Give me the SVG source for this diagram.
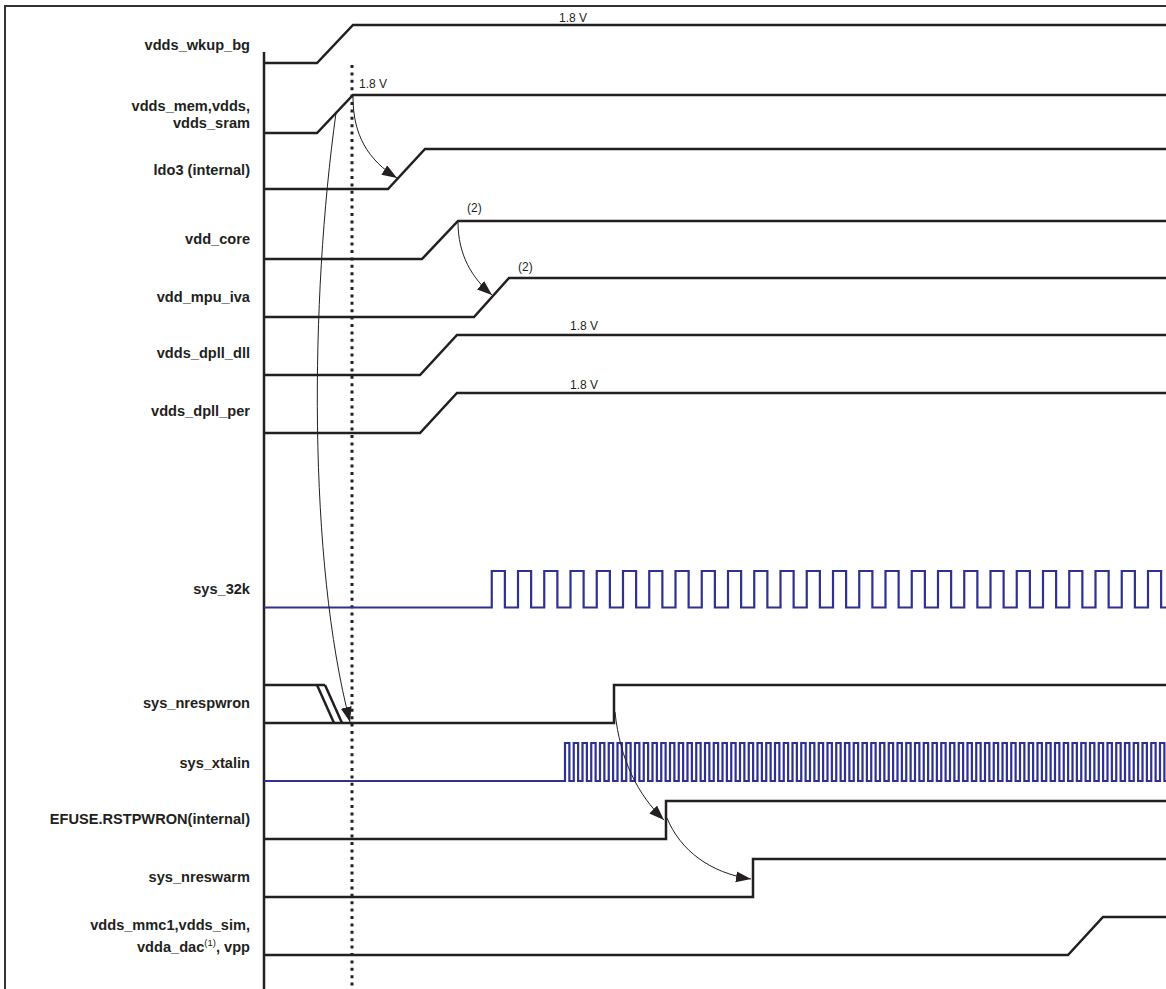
<svg xmlns="http://www.w3.org/2000/svg" width="1166" height="989" viewBox="0 0 1166 989">
<style>
.lbl{font-family:"Liberation Sans",Arial,sans-serif;font-weight:bold;font-size:14.6px;fill:#231f20;text-anchor:end}
.val{font-family:"Liberation Sans",Arial,sans-serif;font-size:12px;fill:#231f20}
.sig{fill:none;stroke:#231f20;stroke-width:2.5;stroke-linejoin:miter}
.clk{fill:none;stroke:#2e3192;stroke-width:2.2}
.arr{fill:none;stroke:#231f20;stroke-width:1}
.frame{fill:none;stroke:#333;stroke-width:2}
</style>
<defs>
<marker id="ah" markerUnits="userSpaceOnUse" markerWidth="16" markerHeight="12" refX="15" refY="5.5" orient="auto">
<path d="M0,0 L15,5.5 L0,11 z" fill="#231f20"/>
</marker>
</defs>
<rect width="1166" height="989" fill="#fff"/>
<g id="frame">
<path class="frame" d="M5,989 V6 H1166"/>
<line x1="264" y1="52" x2="264" y2="989" stroke="#231f20" stroke-width="2.5"/>
<line x1="352" y1="65" x2="352" y2="989" stroke="#231f20" stroke-width="3" stroke-dasharray="3 4.4"/>
</g>
<g id="vdds_wkup_bg">
<text class="lbl" x="250" y="50">vdds_wkup_bg</text>
<path class="sig" d="M264,63 H317 L353,25 H1166"/>
<text class="val" x="559" y="22">1.8 V</text>
</g>
<g id="vdds_mem">
<text class="lbl" x="250" y="111">vdds_mem,vdds,</text>
<text class="lbl" x="250" y="128">vdds_sram</text>
<path class="sig" d="M264,133 H317 L353,95 H1166"/>
<text class="val" x="359" y="88">1.8 V</text>
</g>
<g id="ldo3">
<text class="lbl" x="250" y="175">ldo3 (internal)</text>
<path class="sig" d="M264,189 H388 L425,149 H1166"/>
</g>
<g id="vdd_core">
<text class="lbl" x="250" y="244">vdd_core</text>
<path class="sig" d="M264,259 H422 L458,221 H1166"/>
<text class="val" x="467" y="212">(2)</text>
</g>
<g id="vdd_mpu_iva">
<text class="lbl" x="250" y="302">vdd_mpu_iva</text>
<path class="sig" d="M264,317 H474 L509,278 H1166"/>
<text class="val" x="518" y="271">(2)</text>
</g>
<g id="vdds_dpll_dll">
<text class="lbl" x="250" y="358">vdds_dpll_dll</text>
<path class="sig" d="M264,375 H420 L457,335 H1166"/>
<text class="val" x="570" y="330">1.8 V</text>
</g>
<g id="vdds_dpll_per">
<text class="lbl" x="250" y="416">vdds_dpll_per</text>
<path class="sig" d="M264,433 H420 L457,393 H1166"/>
<text class="val" x="570" y="389">1.8 V</text>
</g>
<g id="sys_32k">
<text class="lbl" x="250" y="594">sys_32k</text>
<path class="clk" d="M264,607.5 H491.75 v-36.5 h13.125 v36.5 h13.125 v-36.5 h13.125 v36.5 h13.125 v-36.5 h13.125 v36.5 h13.125 v-36.5 h13.125 v36.5 h13.125 v-36.5 h13.125 v36.5 h13.125 v-36.5 h13.125 v36.5 h13.125 v-36.5 h13.125 v36.5 h13.125 v-36.5 h13.125 v36.5 h13.125 v-36.5 h13.125 v36.5 h13.125 v-36.5 h13.125 v36.5 h13.125 v-36.5 h13.125 v36.5 h13.125 v-36.5 h13.125 v36.5 h13.125 v-36.5 h13.125 v36.5 h13.125 v-36.5 h13.125 v36.5 h13.125 v-36.5 h13.125 v36.5 h13.125 v-36.5 h13.125 v36.5 h13.125 v-36.5 h13.125 v36.5 h13.125 v-36.5 h13.125 v36.5 h13.125 v-36.5 h13.125 v36.5 h13.125 v-36.5 h13.125 v36.5 h13.125 v-36.5 h13.125 v36.5 h13.125 v-36.5 h13.125 v36.5 h13.125 v-36.5 h13.125 v36.5 h13.125 v-36.5 h13.125 v36.5 h13.125 v-36.5 h13.125 v36.5 h13.125 v-36.5 h13.125 v36.5 h13.125 v-36.5 h13.125 v36.5 h13.125 v-36.5 h13.125 v36.5 h13.125 v-36.5 h13.125 v36.5 h13.125 v-36.5 h13.125 v36.5 h13.125"/>
</g>
<g id="sys_nrespwron">
<text class="lbl" x="250" y="708">sys_nrespwron</text>
<path class="sig" d="M264,685 H325"/>
<path class="sig" d="M317,685 L334,723"/>
<path class="sig" d="M325,685 L342,723"/>
<path class="sig" d="M264,723 H614 V685 H1166"/>
</g>
<g id="sys_xtalin">
<text class="lbl" x="250" y="768">sys_xtalin</text>
<path class="clk" d="M264,781 H565 v-38 h4.375 v38 h4.375 v-38 h4.375 v38 h4.375 v-38 h4.375 v38 h4.375 v-38 h4.375 v38 h4.375 v-38 h4.375 v38 h4.375 v-38 h4.375 v38 h4.375 v-38 h4.375 v38 h4.375 v-38 h4.375 v38 h4.375 v-38 h4.375 v38 h4.375 v-38 h4.375 v38 h4.375 v-38 h4.375 v38 h4.375 v-38 h4.375 v38 h4.375 v-38 h4.375 v38 h4.375 v-38 h4.375 v38 h4.375 v-38 h4.375 v38 h4.375 v-38 h4.375 v38 h4.375 v-38 h4.375 v38 h4.375 v-38 h4.375 v38 h4.375 v-38 h4.375 v38 h4.375 v-38 h4.375 v38 h4.375 v-38 h4.375 v38 h4.375 v-38 h4.375 v38 h4.375 v-38 h4.375 v38 h4.375 v-38 h4.375 v38 h4.375 v-38 h4.375 v38 h4.375 v-38 h4.375 v38 h4.375 v-38 h4.375 v38 h4.375 v-38 h4.375 v38 h4.375 v-38 h4.375 v38 h4.375 v-38 h4.375 v38 h4.375 v-38 h4.375 v38 h4.375 v-38 h4.375 v38 h4.375 v-38 h4.375 v38 h4.375 v-38 h4.375 v38 h4.375 v-38 h4.375 v38 h4.375 v-38 h4.375 v38 h4.375 v-38 h4.375 v38 h4.375 v-38 h4.375 v38 h4.375 v-38 h4.375 v38 h4.375 v-38 h4.375 v38 h4.375 v-38 h4.375 v38 h4.375 v-38 h4.375 v38 h4.375 v-38 h4.375 v38 h4.375 v-38 h4.375 v38 h4.375 v-38 h4.375 v38 h4.375 v-38 h4.375 v38 h4.375 v-38 h4.375 v38 h4.375 v-38 h4.375 v38 h4.375 v-38 h4.375 v38 h4.375 v-38 h4.375 v38 h4.375 v-38 h4.375 v38 h4.375 v-38 h4.375 v38 h4.375 v-38 h4.375 v38 h4.375 v-38 h4.375 v38 h4.375 v-38 h4.375 v38 h4.375 v-38 h4.375 v38 h4.375 v-38 h4.375 v38 h4.375 v-38 h4.375 v38 h4.375 v-38 h4.375 v38 h4.375 v-38 h4.375 v38 h4.375 v-38 h4.375 v38 h4.375 v-38 h4.375 v38 h4.375 v-38 h4.375 v38 h4.375 v-38 h4.375 v38 h4.375 v-38 h4.375 v38 h4.375 v-38 h4.375 v38 h4.375 v-38 h4.375 v38 h4.375 v-38 h4.375 v38 h4.375 v-38 h4.375 v38 h4.375"/>
</g>
<g id="efuse_rstpwron">
<text class="lbl" x="250" y="824">EFUSE.RSTPWRON(internal)</text>
<path class="sig" d="M264,839 H666 V801 H1166"/>
</g>
<g id="sys_nreswarm">
<text class="lbl" x="250" y="882">sys_nreswarm</text>
<path class="sig" d="M264,897 H753 V859 H1166"/>
</g>
<g id="vdds_mmc1">
<text class="lbl" x="250" y="930">vdds_mmc1,vdds_sim,</text>
<text class="lbl" x="250" y="952">vdda_dac<tspan font-size="9.5px" font-weight="normal" dy="-6">(1)</tspan><tspan dy="6">, vpp</tspan></text>
<path class="sig" d="M264,955 H1068 L1103,917 H1166"/>
</g>
<g id="connectors">
<path class="arr" marker-end="url(#ah)" d="M353,97 C353,135 368,160 397,178"/>
<path class="arr" marker-end="url(#ah)" d="M458,222 C458,255 472,278 492,295"/>
<path class="arr" marker-end="url(#ah)" d="M336,113 C310,300 308,560 350,722"/>
<path class="arr" marker-end="url(#ah)" d="M615,712 C620,760 638,795 664,820"/>
<path class="arr" marker-end="url(#ah)" d="M667,818 C680,850 710,873 751,879"/>
</g>
</svg>
